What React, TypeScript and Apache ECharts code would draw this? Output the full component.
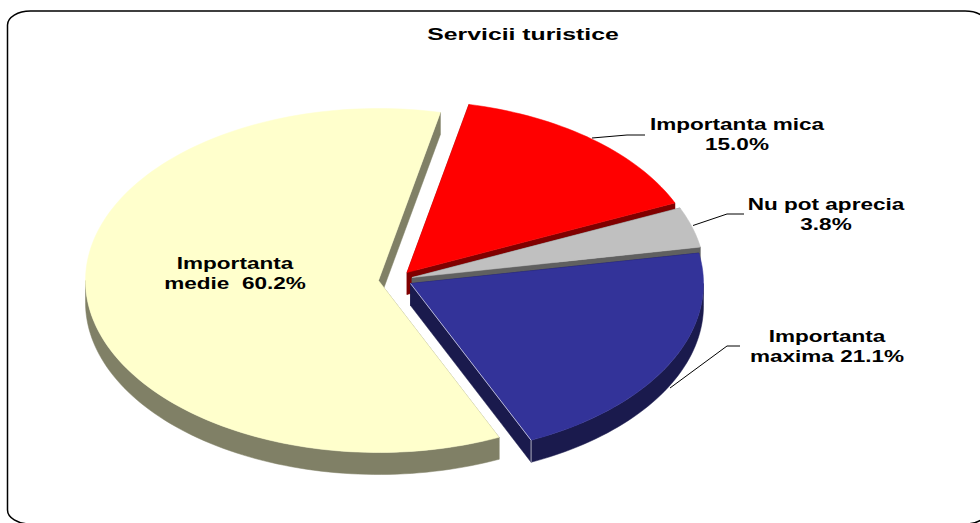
import React, { useEffect, useRef } from "react";
import * as echarts from "echarts";

const chartTitle = "Servicii turistice";
const categories = ["Importanta medie", "Importanta mica", "Nu pot aprecia", "Importanta maxima"];
const values = [60.2, 15.0, 3.8, 21.1];
const labelFirstLine = ["Importanta", "Importanta mica", "Nu pot aprecia", "Importanta"];
const labelValuePrefix = ["medie  ", "", "", "maxima "];

const topColors = ["#FFFFCC", "#FF0000", "#C0C0C0", "#333399"];
const wallColors = ["#808066", "#800000", "#606060", "#1A1A4D"];

// 3D pie layout (pixels)
const START_ANGLE = 155.7;
const RX = 293;
const RY = 172;
const DEPTH = 22;
const apexes = [[378.5, 280.5], [407, 272.5], [412, 277.5], [410.5, 283.5]];
const labelPos = [[235, 273.5], [737, 134], [826, 214], [827, 346]];
const leaders: number[][][] = [
  [],
  [[592, 138], [627, 135], [645, 135]],
  [[693, 225.5], [727, 214], [744, 214]],
  [[670, 388], [727, 346], [740, 346]],
];

const FRAME =
  "M7.5 25 A23 14 0 0 1 30.5 11 L965 11 A23 14 0 0 1 988 25 L988 510 A23 14 0 0 1 965 524 L30.5 524 A23 14 0 0 1 7.5 510 Z";
echarts.graphic.registerShape("frame", echarts.graphic.extendPath(FRAME, {}));

const total = values.reduce((a, b) => a + b, 0);
const FONT = 'bold 16px "Liberation Sans", Arial, sans-serif';

function renderSlice(params: any, api: any) {
  const i = params.dataIndex;
  const v = api.value(0);
  let a0 = START_ANGLE;
  for (let k = 0; k < i; k++) a0 += (values[k] / total) * 360;
  if (a0 >= 360) a0 -= 360;
  const a1 = a0 + (v / total) * 360;
  const [cx, cy] = apexes[i];
  const pt = (deg: number, dy = 0) => {
    const t = (deg * Math.PI) / 180;
    return [cx + RX * Math.sin(t), cy - RY * Math.cos(t) + dy];
  };
  const arc = (from: number, to: number, dy = 0) => {
    const out: number[][] = [];
    const n = Math.max(2, Math.ceil(Math.abs(to - from) / 1.5));
    for (let s = 0; s <= n; s++) out.push(pt(from + ((to - from) * s) / n, dy));
    return out;
  };
  const wall = wallColors[i];
  const children: any[] = [];
  const poly = (points: number[][], fill: string) =>
    children.push({
      type: "polygon",
      shape: { points },
      style: { fill, stroke: fill, lineWidth: 0.5 },
      silent: true,
    });

  // cut faces
  poly([[cx, cy], pt(a1), pt(a1, DEPTH), [cx, cy + DEPTH]], wall);
  poly([[cx, cy], pt(a0), pt(a0, DEPTH), [cx, cy + DEPTH]], wall);
  // rim (only the near half of the ellipse is visible)
  const lo = Math.max(a0, 90);
  const hi = Math.min(a1, 270);
  if (hi > lo) poly([...arc(lo, hi), ...arc(hi, lo, DEPTH)], wall);
  // top face
  poly([[cx, cy], ...arc(a0, a1)], topColors[i]);

  if (i === 3) {
    children.push({
      type: "polyline",
      shape: { points: [[cx, cy], pt(a1), pt(a1, DEPTH)] },
      style: { stroke: "#FFFFFF", fill: "none", lineWidth: 0.8, opacity: 0.8 },
      silent: true,
    });
  }

  if (leaders[i].length) {
    children.push({
      type: "polyline",
      shape: { points: leaders[i] },
      style: { stroke: "#000000", fill: "none", lineWidth: 1 },
      silent: true,
    });
  }

  const [lx, ly] = labelPos[i];
  const lines = [labelFirstLine[i], `${labelValuePrefix[i]}${v.toFixed(1)}%`];
  lines.forEach((text, k) => {
    children.push({
      type: "text",
      x: lx,
      y: ly + (k === 0 ? -10 : 10),
      scaleX: 1.41,
      silent: true,
      style: { text, x: 0, y: 0, align: "center", verticalAlign: "middle", font: FONT, fill: "#000000" },
    });
  });

  return { type: "group", children };
}

export default function App() {
  const ref = useRef<HTMLDivElement>(null);
  useEffect(() => {
    document.body.style.margin = "0";
    const chart = echarts.init(ref.current!, undefined, { renderer: "svg" });
    chart.setOption({
      animation: false,
      backgroundColor: "#FFFFFF",
      graphic: [
        {
          type: "frame",
          x: 0,
          y: 0,
          silent: true,
          style: { fill: "none", stroke: "#000000", lineWidth: 1.5 },
        },
        {
          type: "text",
          x: 523,
          y: 34,
          scaleX: 1.55,
          silent: true,
          style: {
            text: chartTitle,
            x: 0,
            y: 0,
            align: "center",
            verticalAlign: "middle",
            font: FONT,
            fill: "#000000",
          },
        },
      ],
      series: [
        {
          type: "custom",
          coordinateSystem: "none",
          renderItem: renderSlice,
          data: categories.map((name, i) => ({ name, value: [values[i]] })),
        },
      ],
    });
    return () => chart.dispose();
  }, []);
  return <div ref={ref} style={{ position: "absolute", left: 0, top: 0, width: 980, height: 523 }} />;
}
